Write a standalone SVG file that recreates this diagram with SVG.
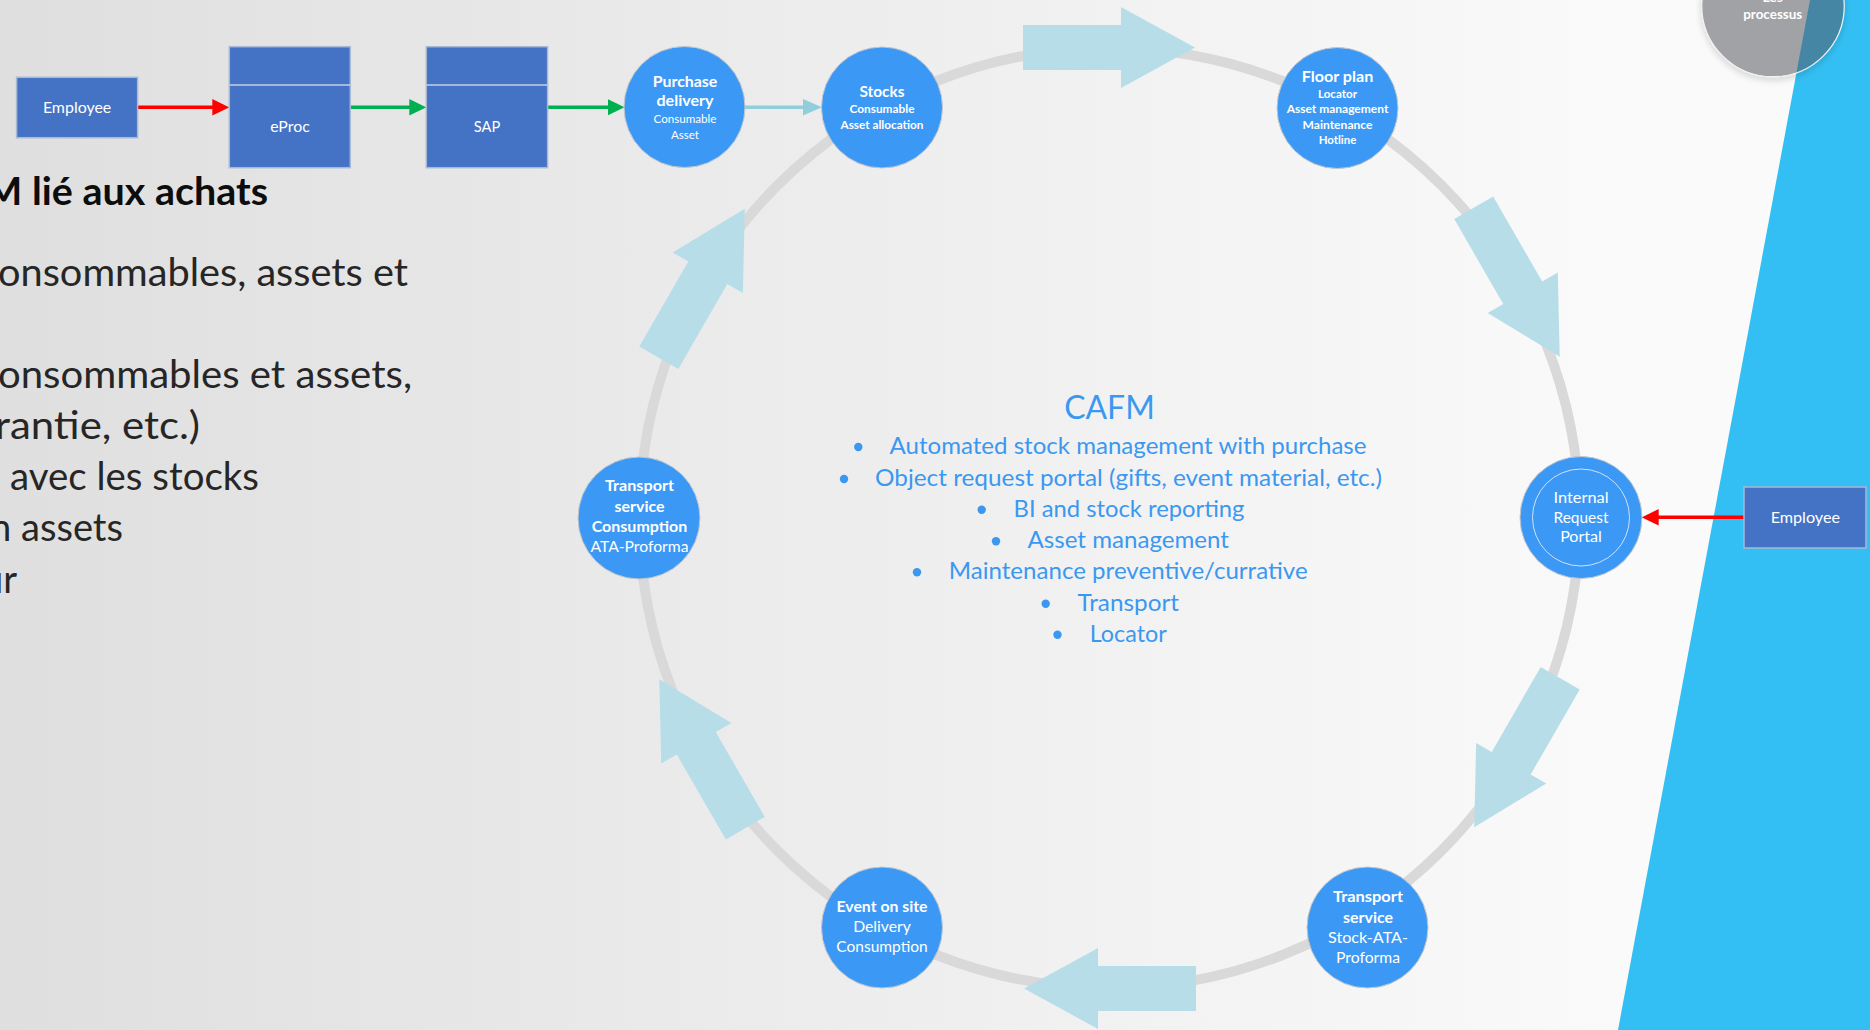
<svg xmlns="http://www.w3.org/2000/svg" width="1870" height="1030" viewBox="0 0 1870 1030">
  <defs>
    <linearGradient id="bg" x1="0" y1="0" x2="1620" y2="0" gradientUnits="userSpaceOnUse">
      <stop offset="0" stop-color="#dfdfdf"/>
      <stop offset="1" stop-color="#fafafa"/>
    </linearGradient>
    <!-- block arrow sitting on top of the ring, pointing clockwise -->
    <path id="flow" d="M1023 25 H1121 V7 L1195 47.5 L1121 88 V70 H1023 Z"/>
    <marker id="headRed" markerUnits="userSpaceOnUse" markerWidth="17" markerHeight="17" refX="2" refY="8.3" orient="auto">
      <path d="M0 0 L17 8.3 L0 16.6 Z" fill="#ff0000"/>
    </marker>
    <marker id="headGreen" markerUnits="userSpaceOnUse" markerWidth="17" markerHeight="17" refX="2" refY="8.3" orient="auto">
      <path d="M0 0 L17 8.3 L0 16.6 Z" fill="#00b050"/>
    </marker>
    <marker id="headLight" markerUnits="userSpaceOnUse" markerWidth="19" markerHeight="17" refX="2" refY="8.3" orient="auto">
      <path d="M0 0 L19 8.3 L0 16.6 Z" fill="#92cddc"/>
    </marker>
    <filter id="soft" x="-20%" y="-20%" width="140%" height="150%">
      <feGaussianBlur in="SourceAlpha" stdDeviation="3"/>
      <feOffset dy="3"/>
      <feComponentTransfer><feFuncA type="linear" slope="0.25"/></feComponentTransfer>
      <feMerge><feMergeNode/><feMergeNode in="SourceGraphic"/></feMerge>
    </filter>
  </defs>
  <style>
    text { font-family: Lato, "Open Sans", "Liberation Sans", sans-serif; }
    .lead { font-size: 39px; fill: #262626; }
    .ttl { font-weight: 700; fill: #0d0d0d; }
    .box rect { fill: #4472c4; stroke: #a9b8d4; stroke-width: 1.5; }
    .box line { stroke: #c3d0e8; stroke-width: 1.5; }
    .box text { fill: #ffffff; font-size: 16px; text-anchor: middle; }
    .node circle { fill: #3b98f5; stroke: #c4c8cc; stroke-width: 1; }
    .node text { fill: #ffffff; text-anchor: middle; }
    .h { font-weight: 700; font-size: 16px; }
    .m { font-size: 16px; }
    .s { font-size: 11.5px; }
    .sb { font-size: 11.5px; font-weight: 700; }
    .r { font-size: 15.5px; }
    .cafm text { fill: #3b98f0; font-size: 23px; }
    .cafm circle { fill: #3b98f0; }
    .flowarrow { fill: #b7dee8; }
    .conn { stroke-width: 3.5; fill: none; }
  </style>

  <!-- backdrop -->
  <rect x="0" y="0" width="1870" height="1030" fill="url(#bg)"/>
  <polygon points="1810,0 1870,0 1870,1030 1618,1030" fill="#33bff3"/>

  <!-- left-hand slide text -->
  <g id="intro-text" class="lead">
    <text x="-15" y="205" textLength="283" lengthAdjust="spacingAndGlyphs" class="ttl">M lié aux achats</text>
    <text x="-2" y="286" textLength="410" lengthAdjust="spacingAndGlyphs">onsommables, assets et</text>
    <text x="-2" y="388" textLength="414" lengthAdjust="spacingAndGlyphs">onsommables et assets,</text>
    <text x="-5" y="439" textLength="205" lengthAdjust="spacingAndGlyphs">rantie, etc.)</text>
    <text x="10" y="490" textLength="249" lengthAdjust="spacingAndGlyphs">avec les stocks</text>
    <text x="-10" y="541" textLength="133" lengthAdjust="spacingAndGlyphs">n assets</text>
    <text x="-18" y="593" textLength="35" lengthAdjust="spacingAndGlyphs">ur</text>
  </g>

  <!-- cycle ring -->
  <circle id="cycle" cx="1109.5" cy="518" r="470" fill="none" stroke="#d9d9d9" stroke-width="10"/>

  <!-- connectors -->
  <g id="connectors">
    <g class="flowarrow">
      <use href="#flow"/>
      <use href="#flow" transform="rotate(60 1109.5 518)"/>
      <use href="#flow" transform="rotate(120 1109.5 518)"/>
      <use href="#flow" transform="rotate(180 1109.5 518)"/>
      <use href="#flow" transform="rotate(240 1109.5 518)"/>
      <use href="#flow" transform="rotate(300 1109.5 518)"/>
    </g>
    <line class="conn" x1="137.6" y1="107.3" x2="214.3" y2="107.3" stroke="#ff0000" marker-end="url(#headRed)"/>
    <line class="conn" x1="350.3" y1="107.3" x2="411.3" y2="107.3" stroke="#00b050" marker-end="url(#headGreen)"/>
    <line class="conn" x1="547.6" y1="107.3" x2="609.5" y2="107.3" stroke="#00b050" marker-end="url(#headGreen)"/>
    <line class="conn" x1="744.5" y1="107.3" x2="805" y2="107.3" stroke="#92cddc" marker-end="url(#headLight)"/>
    <line class="conn" x1="1744" y1="517.3" x2="1656.7" y2="517.3" stroke="#ff0000" marker-end="url(#headRed)"/>
  </g>

  <!-- purchasing chain -->
  <g id="employee-left" class="box">
    <rect x="16.6" y="77.3" width="121" height="60.4"/>
    <text x="77.1" y="113.3" textLength="68.4" lengthAdjust="spacingAndGlyphs">Employee</text>
  </g>
  <g id="eproc" class="box">
    <rect x="229.3" y="46.7" width="121" height="121"/>
    <line x1="229.3" y1="85" x2="350.3" y2="85"/>
    <text x="290" y="131.7" textLength="39.6" lengthAdjust="spacingAndGlyphs">eProc</text>
  </g>
  <g id="sap" class="box">
    <rect x="426.3" y="46.7" width="121.3" height="121"/>
    <line x1="426.3" y1="85" x2="547.6" y2="85"/>
    <text x="487" y="131.7" textLength="26.5" lengthAdjust="spacingAndGlyphs">SAP</text>
  </g>
  <g id="purchase-delivery" class="node">
    <circle cx="684.5" cy="107" r="60.5"/>
    <text class="h" x="685" y="86.7" textLength="64.7" lengthAdjust="spacingAndGlyphs">Purchase</text>
    <text class="h" x="685" y="105.5" textLength="57" lengthAdjust="spacingAndGlyphs">delivery</text>
    <text class="s" x="685" y="123.3" textLength="63" lengthAdjust="spacingAndGlyphs">Consumable</text>
    <text class="s" x="685" y="139" textLength="28" lengthAdjust="spacingAndGlyphs">Asset</text>
  </g>

  <!-- cycle nodes -->
  <g id="stocks" class="node">
    <circle cx="882" cy="107.5" r="60.5"/>
    <text class="h" x="882" y="96.7" textLength="45" lengthAdjust="spacingAndGlyphs">Stocks</text>
    <text class="sb" x="882" y="113" textLength="65" lengthAdjust="spacingAndGlyphs">Consumable</text>
    <text class="sb" x="882" y="129" textLength="83" lengthAdjust="spacingAndGlyphs">Asset allocation</text>
  </g>
  <g id="floor-plan" class="node">
    <circle cx="1337.5" cy="108" r="60.5"/>
    <text class="h" x="1337.5" y="81.7" textLength="71.6" lengthAdjust="spacingAndGlyphs">Floor plan</text>
    <text class="sb" x="1337.5" y="98.3" textLength="39" lengthAdjust="spacingAndGlyphs">Locator</text>
    <text class="sb" x="1337.5" y="113.3" textLength="101.7" lengthAdjust="spacingAndGlyphs">Asset management</text>
    <text class="sb" x="1337.5" y="129" textLength="70" lengthAdjust="spacingAndGlyphs">Maintenance</text>
    <text class="sb" x="1337.5" y="144" textLength="37.7" lengthAdjust="spacingAndGlyphs">Hotline</text>
  </g>
  <g id="internal-request-portal" class="node">
    <circle cx="1581" cy="517.5" r="61"/>
    <circle cx="1581" cy="517.5" r="48.5" fill="none" style="stroke:#cfe2fa;fill:none"/>
    <text class="r" x="1581" y="502.7" textLength="55" lengthAdjust="spacingAndGlyphs">Internal</text>
    <text class="r" x="1581" y="522.7" textLength="55" lengthAdjust="spacingAndGlyphs">Request</text>
    <text class="r" x="1581" y="542" textLength="41.7" lengthAdjust="spacingAndGlyphs">Portal</text>
  </g>
  <g id="transport-stock" class="node">
    <circle cx="1367.5" cy="927.5" r="60.5"/>
    <text class="h" x="1368" y="901.7" textLength="70" lengthAdjust="spacingAndGlyphs">Transport</text>
    <text class="h" x="1368" y="922.7" textLength="50" lengthAdjust="spacingAndGlyphs">service</text>
    <text class="m" x="1368" y="942.7" textLength="80" lengthAdjust="spacingAndGlyphs">Stock-ATA-</text>
    <text class="m" x="1368" y="962.7" textLength="64" lengthAdjust="spacingAndGlyphs">Proforma</text>
  </g>
  <g id="event-on-site" class="node">
    <circle cx="882" cy="927.5" r="60.5"/>
    <text class="h" x="882" y="911.7" textLength="91" lengthAdjust="spacingAndGlyphs">Event on site</text>
    <text class="m" x="882" y="931.7" textLength="57.7" lengthAdjust="spacingAndGlyphs">Delivery</text>
    <text class="m" x="882" y="951.7" textLength="91.3" lengthAdjust="spacingAndGlyphs">Consumption</text>
  </g>
  <g id="transport-consumption" class="node">
    <circle cx="639" cy="518" r="61"/>
    <text class="h" x="639.5" y="491" textLength="69" lengthAdjust="spacingAndGlyphs">Transport</text>
    <text class="h" x="639.5" y="512" textLength="50" lengthAdjust="spacingAndGlyphs">service</text>
    <text class="h" x="639.5" y="532" textLength="95.6" lengthAdjust="spacingAndGlyphs">Consumption</text>
    <text class="m" x="639.5" y="552" textLength="98" lengthAdjust="spacingAndGlyphs">ATA-Proforma</text>
  </g>

  <!-- centre summary -->
  <g id="cafm" class="cafm">
    <text x="1109.5" y="419.3" text-anchor="middle" style="font-size:32px" textLength="90.6" lengthAdjust="spacingAndGlyphs">CAFM</text>
    <circle cx="858.3" cy="447" r="4.2"/>
    <text x="889.5" y="454" textLength="477" lengthAdjust="spacingAndGlyphs">Automated stock management with purchase</text>
    <circle cx="844" cy="479" r="4.2"/>
    <text x="875" y="486" textLength="507" lengthAdjust="spacingAndGlyphs">Object request portal (gifts, event material, etc.)</text>
    <circle cx="981.7" cy="509.7" r="4.2"/>
    <text x="1013.5" y="516.7" textLength="231" lengthAdjust="spacingAndGlyphs">BI and stock reporting</text>
    <circle cx="996" cy="541.3" r="4.2"/>
    <text x="1027.5" y="548.3" textLength="201.5" lengthAdjust="spacingAndGlyphs">Asset management</text>
    <circle cx="917" cy="572.3" r="4.2"/>
    <text x="948.7" y="579.3" textLength="359" lengthAdjust="spacingAndGlyphs">Maintenance preventive/currative</text>
    <circle cx="1045.7" cy="603.7" r="4.2"/>
    <text x="1077.5" y="610.7" textLength="101.5" lengthAdjust="spacingAndGlyphs">Transport</text>
    <circle cx="1057.5" cy="634.7" r="4.2"/>
    <text x="1089.7" y="641.7" textLength="77" lengthAdjust="spacingAndGlyphs">Locator</text>
  </g>

  <!-- right-hand requester -->
  <g id="employee-right" class="box">
    <rect x="1744" y="487" width="122" height="61"/>
    <text x="1805.3" y="523.3" textLength="69.3" lengthAdjust="spacingAndGlyphs">Employee</text>
  </g>

  <!-- section badge -->
  <g id="badge-processus">
    <circle cx="1773" cy="5.4" r="71.3" fill="#575d64" fill-opacity="0.48" stroke="#f0f0f0" stroke-width="1.2" filter="url(#soft)"/>
    <text x="1772.7" y="2" text-anchor="middle" fill="#ffffff" font-size="14px" font-weight="700">Les</text>
    <text x="1772.7" y="19" text-anchor="middle" fill="#ffffff" font-size="14px" font-weight="700" textLength="59" lengthAdjust="spacingAndGlyphs">processus</text>
  </g>
</svg>
